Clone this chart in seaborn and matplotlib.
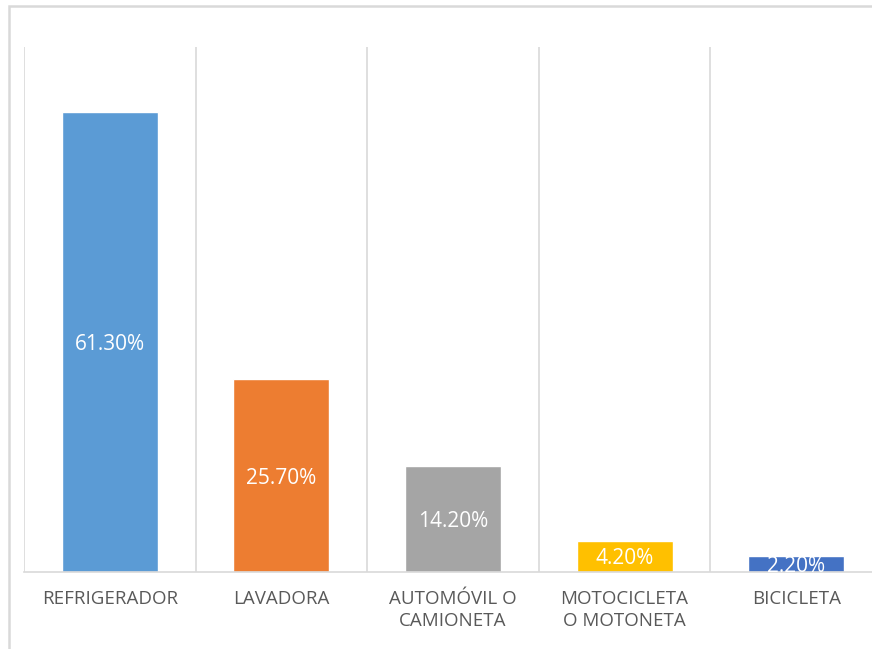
import matplotlib
matplotlib.use("Agg")
import matplotlib.pyplot as plt
import matplotlib.patches as mpatches
import seaborn as sns

categories = ["REFRIGERADOR", "LAVADORA", "AUTOMÓVIL O\nCAMIONETA",
              "MOTOCICLETA\nO MOTONETA", "BICICLETA"]
values = [61.3, 25.7, 14.2, 4.2, 2.2]
colors = ["#5B9BD5", "#ED7D31", "#A5A5A5", "#FFC000", "#4472C4"]

sns.set_theme(style="white")
plt.rcParams["font.family"] = ["Open Sans", "DejaVu Sans"]

fig = plt.figure(figsize=(8.72, 6.49), dpi=100)
ax = fig.add_axes([24 / 872, 77 / 649, 858 / 872, 525 / 649])

sns.barplot(x=categories, y=values, hue=categories, palette=colors,
            legend=False, width=0.56, saturation=1, ax=ax)

for cont, v in zip(ax.containers, values):
    labs = ax.bar_label(cont, labels=[f"{v:.2f}%"], label_type="center",
                        color="white", fontsize=15)
    for t in labs:
        t.set_verticalalignment("center_baseline")
        t.set_clip_on(True)

ax.set_xlim(-0.5, len(categories) - 0.5)
ax.set_ylim(0, 70)
ax.set_yticks([])
ax.set_xticks([i - 0.5 for i in range(len(categories) + 1)], minor=True)
ax.grid(which="minor", axis="x", color="#D9D9D9", linewidth=1.2)
ax.grid(which="major", visible=False)
ax.tick_params(axis="x", which="both", length=0, pad=13,
               labelsize=13.5, labelcolor="#595959")
for lab in ax.get_xticklabels():
    lab.set_linespacing(1.25)
for s in ["left", "right", "top"]:
    ax.spines[s].set_visible(False)
ax.spines["bottom"].set_color("#D9D9D9")
ax.spines["bottom"].set_linewidth(1.2)
ax.set_xlabel("")
ax.set_ylabel("")

# outer chart frame
fig.patches.append(mpatches.Rectangle((9 / 872, -0.1), 1.2, 643 / 649 + 0.1,
                                      transform=fig.transFigure, fill=False,
                                      edgecolor="#D9D9D9", linewidth=1.8))

fig.savefig("out.png", dpi=100)
